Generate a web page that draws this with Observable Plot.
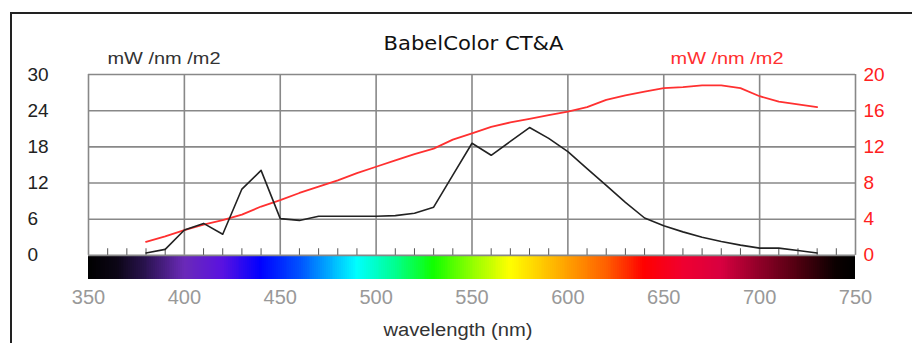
<!DOCTYPE html>
<html>
<head>
<meta charset="utf-8">
<script src="https://cdn.jsdelivr.net/npm/d3@7"></script>
<script src="https://cdn.jsdelivr.net/npm/@observablehq/plot@0.6"></script>
<style>
  html, body { margin: 0; padding: 0; background: #fff; }
  #wrap { position: relative; width: 912px; height: 343px; overflow: hidden; }
  #border { position: absolute; left: 10px; top: 12px; width: 920px; height: 360px;
            border-left: 2px solid #222; border-top: 2px solid #222; pointer-events: none; }
</style>
</head>
<body>
<div id="wrap"><div id="border"></div></div>
<script>
// ---- data ----
const wavelengths = [380,390,400,410,420,430,440,450,460,470,480,490,500,510,520,530,540,550,560,570,580,590,600,610,620,630,640,650,660,670,680,690,700,710,720,730];
const blackSeries = [0.4,1.0,4.2,5.3,3.5,11.0,14.1,6.1,5.8,6.5,6.5,6.5,6.5,6.6,7.0,8.0,13.3,18.6,16.6,18.9,21.2,19.4,17.2,14.4,11.6,8.8,6.2,4.9,3.9,3.0,2.3,1.7,1.2,1.2,0.8,0.4];
const redSeries = [1.5,2.1,2.8,3.4,3.9,4.5,5.4,6.1,6.9,7.6,8.3,9.1,9.8,10.5,11.2,11.8,12.8,13.5,14.2,14.7,15.1,15.5,15.9,16.4,17.2,17.7,18.1,18.5,18.6,18.8,18.8,18.5,17.6,17.0,16.7,16.4];
const xTicks = [350,400,450,500,550,600,650,700,750];
const leftTicks = [0,6,12,18,24,30];
const rightTicks = [0,4,8,12,16,20];
const spectrumNm =    [350,     365,      380,      400,      420,      440,      460,      490,      510,      530,      550,      570,      600,      620,      640,      660,      680,      700,      720,      740,      750];
const spectrumColor = ["#000000","#0c0616","#2a1350","#6a2ab8","#5a12e0","#0000ff","#0050ff","#00ffff","#00ff90","#10ff00","#90ff00","#ffff00","#ffa000","#ff6000","#ff0000","#f00030","#d80040","#900028","#500010","#0a0000","#000000"];
const title = "BabelColor CT&A";
const unitLabel = "mW /nm /m2";
const xLabel = "wavelength (nm)";

// ---- derived ----
const ratio = 30 / 20; // right axis -> left axis units
const blackData = wavelengths.map((w, i) => ({w, v: blackSeries[i]}));
const redData = wavelengths.map((w, i) => ({w, v: redSeries[i] * ratio}));
const cells = d3.range(350, 750, 1);
const minor = d3.range(360, 750, 10).filter(d => d % 50 !== 0);
const grid = "#888";

const chart = Plot.plot({
  width: 912,
  height: 343,
  marginLeft: 88,
  marginRight: 57,
  marginTop: 74,
  marginBottom: 64,
  x: {domain: [350, 750], axis: null},
  y: {domain: [-4, 30], axis: null},
  color: {type: "linear", domain: spectrumNm, range: spectrumColor, interpolate: "rgb"},
  style: {fontFamily: "'Liberation Sans', Arial, sans-serif", background: "#fff"},
  marks: [
    // spectrum bar
    Plot.rect(cells, {x1: d => d, x2: d => d + 1, y1: -4, y2: 0, fill: d => d + 0.5, shapeRendering: "crispEdges"}),
    // grid
    Plot.ruleY(leftTicks, {y: d => d, x1: 350, x2: 750, stroke: grid, strokeWidth: 1.6}),
    Plot.ruleX(xTicks, {x: d => d, y1: 0, y2: 30, stroke: grid, strokeWidth: 1.6}),
    Plot.ruleX(minor, {x: d => d, y1: 0, y2: 1.1, stroke: "#555", strokeWidth: 1}),
    // series
    Plot.line(redData, {x: "w", y: "v", stroke: "#ff3030", strokeWidth: 1.8}),
    Plot.line(blackData, {x: "w", y: "v", stroke: "#222", strokeWidth: 1.6}),
    // left tick labels
    Plot.text(leftTicks, {y: d => d, text: d => String(d), frameAnchor: "left", dx: -61, textAnchor: "start", lineAnchor: "middle", fontSize: 19, fill: "#222"}),
    // right tick labels
    Plot.text(rightTicks, {y: d => d * ratio, text: d => String(d), frameAnchor: "right", dx: 8, textAnchor: "start", lineAnchor: "middle", fontSize: 19, fill: "#ff2020"}),
    // x tick labels
    Plot.text(xTicks, {x: d => d, text: d => String(d), frameAnchor: "bottom", lineAnchor: "middle", dy: 18, fontSize: 20, fill: "#999"}),
    // titles
    Plot.text([title], {text: d => d, frameAnchor: "top", lineAnchor: "middle", dx: 1.5, dy: -30.5, fontSize: 19.5, fill: "#111", fontFamily: "'DejaVu Sans', Verdana, sans-serif"}),
    Plot.text([unitLabel], {text: d => d, frameAnchor: "top-left", lineAnchor: "middle", dx: 19, dy: -15.5, textAnchor: "start", fontSize: 17, fill: "#333"}),
    Plot.text([unitLabel], {text: d => d, frameAnchor: "top-right", lineAnchor: "middle", dx: -72, dy: -15.5, textAnchor: "end", fontSize: 17, fill: "#ff3030"}),
    Plot.text([xLabel], {text: d => d, frameAnchor: "bottom", lineAnchor: "middle", dx: -14, dy: 51, fontSize: 18, fill: "#333"})
  ]
});
// stretch labels horizontally to match the reference widths
d3.select(chart).selectAll("text").each(function() {
  const t = this.textContent;
  if (t === unitLabel) d3.select(this).attr("textLength", 113).attr("lengthAdjust", "spacingAndGlyphs");
  if (t === xLabel) d3.select(this).attr("textLength", 149).attr("lengthAdjust", "spacingAndGlyphs");
  if (t === title) d3.select(this).attr("textLength", 180).attr("lengthAdjust", "spacingAndGlyphs");
});
document.getElementById("wrap").prepend(chart);
</script>
</body>
</html>
